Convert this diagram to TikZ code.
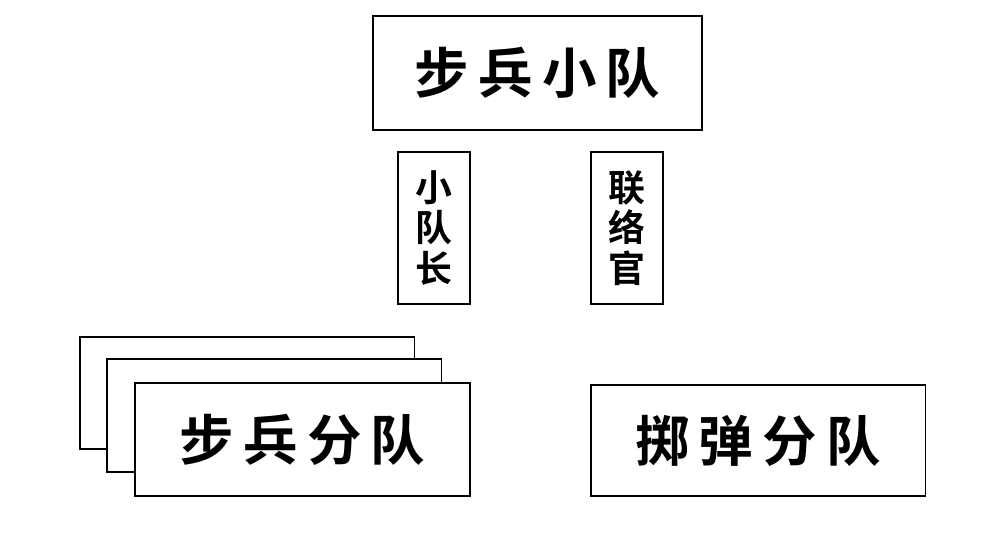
\documentclass[tikz,border=0pt]{standalone}
\usepackage{fontspec}
\newfontfamily\cjk{Noto Sans CJK SC Bold}
\tikzset{
  unitbox/.style={draw, line width=1.1pt, fill=white, inner sep=0pt, font=\cjk},
  bigbox/.style={unitbox, minimum width=6.7cm, minimum height=2.25cm, font=\cjk\fontsize{31}{31}\selectfont},
  tallbox/.style={unitbox, minimum width=1.44cm, minimum height=3.04cm, font=\cjk\fontsize{21}{23}\selectfont, align=center}
}
\begin{document}
\begin{tikzpicture}[x=0.02cm,y=-0.02cm]
  \useasboundingbox (0,0) rectangle (1000,552);
  % top unit
  \node[bigbox, minimum width=6.58cm, minimum height=2.28cm] (platoon) at (537.5,73) {步\,兵\,小\,队};
  % staff
  \node[tallbox] (leader) at (434,228) {小\\队\\长};
  \node[tallbox] (liaison) at (627,228) {联\\络\\官};
  % infantry squads, stacked
  \node[bigbox] (squadc) at (247,393) {};
  \node[bigbox] (squadb) at (274,415.5) {};
  \node[bigbox] (squada) at (302.5,439.5) {步\,兵\,分\,队};
  % grenade squad
  \node[bigbox, minimum height=2.22cm] (grenade) at (758,440.5) {掷\,弹\,分\,队};
\end{tikzpicture}
\end{document}
